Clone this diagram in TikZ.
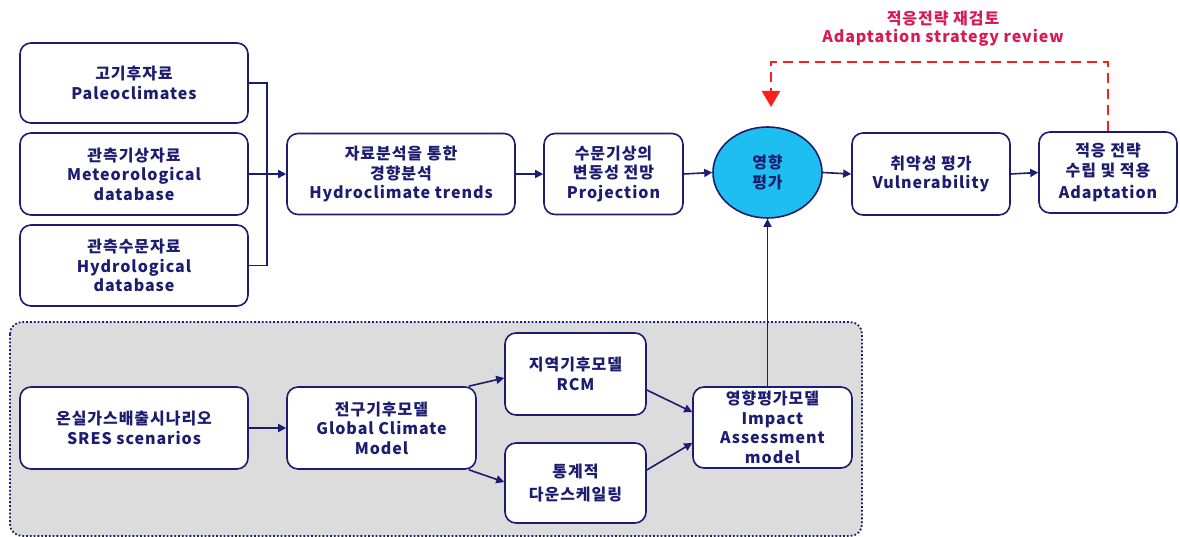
\documentclass[tikz,border=0pt]{standalone}
\usepackage{fontspec}
\setmainfont{Noto Sans CJK KR}[LetterSpace=6]
\usetikzlibrary{arrows.meta,shapes.geometric}
\definecolor{navy}{RGB}{28,28,112}
\definecolor{cyanfill}{RGB}{30,190,240}
\definecolor{grayreg}{RGB}{220,220,220}
\definecolor{redtext}{RGB}{215,25,85}
\definecolor{reddash}{RGB}{250,30,30}
\tikzset{
  box/.style={draw=navy, line width=1.6pt, rounded corners=11pt, fill=white, align=center,
    text=navy, font=\fontsize{16}{19.5}\selectfont\bfseries, inner sep=2pt},
  arr/.style={draw=navy, line width=1.6pt, -{Triangle[length=8pt,width=8pt]}},
  ln/.style={draw=navy, line width=1.6pt},
}
\begin{document}
\begin{tikzpicture}[x=1pt,y=-1pt]
\useasboundingbox (0,0) rectangle (1180,537);
% gray region
\draw[navy, line width=1.8pt, dotted, fill=grayreg, rounded corners=12pt] (10,322) rectangle (862,536);
% top row
\node[box, minimum width=228pt, minimum height=80pt] (p1) at (134,83) {고기후자료\\Paleoclimates};
\node[box, minimum width=228pt, minimum height=82pt] (p2) at (134,174) {관측기상자료\\Meteorological\\database};
\node[box, minimum width=228pt, minimum height=81pt] (p3) at (134,265.5) {관측수문자료\\Hydrological\\database};
\node[box, minimum width=228pt, minimum height=81pt] (trend) at (401,174) {자료분석을 통한\\경향분석\\Hydroclimate trends};
\node[box, minimum width=139pt, minimum height=81pt] (proj) at (613.5,174) {수문기상의\\변동성 전망\\Projection};
\node[ellipse, draw=navy, line width=1.6pt, fill=cyanfill, minimum width=109pt, minimum height=91pt, align=center, text=navy, font=\fontsize{16}{20}\selectfont\bfseries] (circ) at (767.5,172.5) {영향\\평가};
\node[box, minimum width=158pt, minimum height=82pt] (vul) at (931,174) {취약성 평가\\Vulnerability};
\node[box, minimum width=138pt, minimum height=81pt] (adapt) at (1108,172.5) {적응 전략\\수립 및 적용\\[3pt]Adaptation};
% bottom
\node[box, minimum width=228pt, minimum height=82pt] (sres) at (134,428) {온실가스배출시나리오\\SRES scenarios};
\node[box, minimum width=189pt, minimum height=82pt] (gcm) at (381.5,428) {전구기후모델\\Global Climate\\Model};
\node[box, minimum width=141pt, minimum height=82pt] (rcm) at (575.5,374) {지역기후모델\\RCM};
\node[box, minimum width=141pt, minimum height=80pt] (down) at (575.5,483) {통계적\\[4pt]다운스케일링};
\node[box, minimum width=159pt, minimum height=81pt] (impact) at (772.5,427.5) {영향평가모델\\Impact\\Assessment\\model};
% red label
\node[text=redtext, font=\fontsize{16}{18}\selectfont\bfseries, align=center] (rev) at (943,29) {적응전략 재검토\\Adaptation strategy review};
% connectors
\coordinate (j) at (267,174);
\draw[ln] (p1.east) -| (j);
\draw[ln] (p3.east) -| (j);
\draw[arr] (p2.east) -- (trend.west);
\draw[arr] (trend.east) -- (proj.west);
\draw[arr] (proj.east) -- (circ.west);
\draw[arr] (circ.east) -- (vul.west);
\draw[arr] (vul.east) -- (adapt.west);
\draw[arr] (sres.east) -- (gcm.west);
\draw[arr] (gcm.north east) ++(-8,0) coordinate (g1) (g1) -- (rcm.west |- 0,378);
\draw[arr] (gcm.south east) ++(-8,0) coordinate (g2) (g2) -- (down.west |- 0,482);
\draw[arr] (rcm.east |- 0,390) -- (impact.west |- 0,412);
\draw[arr] (down.east |- 0,470) -- (impact.west |- 0,443);
\draw[arr] (circ.south |- impact.north) -- (circ.south);
% red feedback
\coordinate (rt) at (771,107);
\coordinate (ytop) at (0,62);
\draw[reddash, line width=2.4pt, dash pattern=on 10pt off 6pt, -{Triangle[length=16pt,width=18pt]}] (adapt.north) |- (ytop -| rt) -- (rt);
\end{tikzpicture}
\end{document}
